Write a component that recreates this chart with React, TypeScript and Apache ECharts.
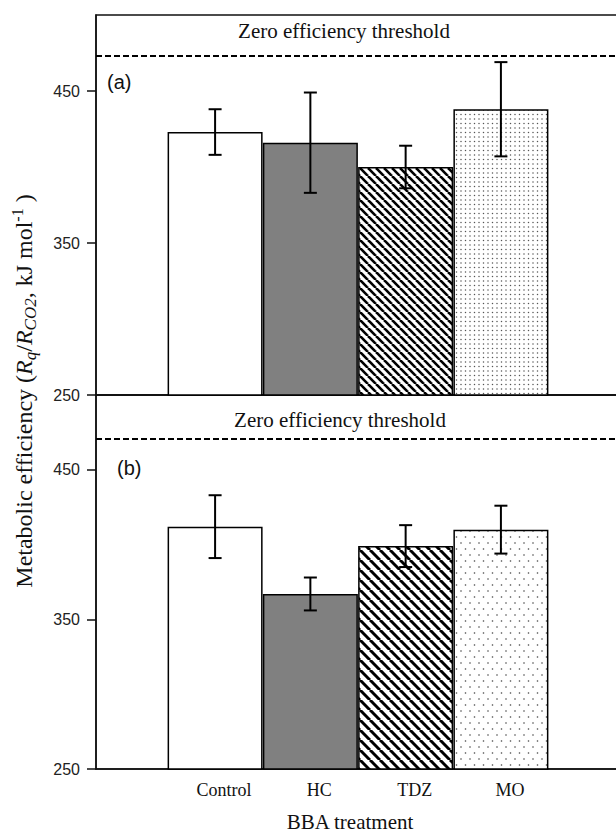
import React, { useEffect, useRef } from "react";
import * as echarts from "echarts";

// ---- data ----
const categories = ["Control", "HC", "TDZ", "MO"];
const positions = [1, 2, 3, 4];
const meansA = [423, 416, 400, 438];
const errorsA = [15, 33, 14, 31];
const meansB = [412, 367, 399, 410];
const errorsB = [21, 11, 14, 16];
const thresholdA = 473;
const thresholdB = 471;
const yTicks = [250, 350, 450];
const thresholdLabel = "Zero efficiency threshold";
const panelLabels = ["(a)", "(b)"];

function stripePattern(p: number, lw: number) {
  const c = document.createElement("canvas");
  c.width = p;
  c.height = p;
  const ctx = c.getContext("2d")!;
  ctx.fillStyle = "#fff";
  ctx.fillRect(0, 0, p, p);
  ctx.strokeStyle = "#000";
  ctx.lineWidth = lw;
  for (const o of [-p, 0, p]) {
    ctx.beginPath();
    ctx.moveTo(o, 0);
    ctx.lineTo(o + p, p);
    ctx.stroke();
  }
  return { image: c.toDataURL(), repeat: "repeat", imageWidth: p, imageHeight: p };
}

function dotPattern(w: number, h: number, dots: number[][], r: number, col: string) {
  const c = document.createElement("canvas");
  c.width = w;
  c.height = h;
  const ctx = c.getContext("2d")!;
  ctx.fillStyle = "#fff";
  ctx.fillRect(0, 0, w, h);
  ctx.fillStyle = col;
  for (const [x, y] of dots) {
    ctx.beginPath();
    ctx.arc(x, y, r, 0, Math.PI * 2);
    ctx.fill();
  }
  return { image: c.toDataURL(), repeat: "repeat", imageWidth: w, imageHeight: h };
}

export default function App() {
  const ref = useRef<HTMLDivElement>(null);
  useEffect(() => {
    if (!ref.current) return;
    const chart = echarts.init(ref.current, null, { renderer: "svg" });
    const axisCol = "#111";
    const serif = "Liberation Serif";
    const fills = [
      [
        "#ffffff",
        "#808080",
        stripePattern(8, 2.6),
        dotPattern(9, 9, [[2, 2], [6.5, 2], [2, 6.5], [6.5, 6.5]], 0.75, "#555"),
      ],
      [
        "#ffffff",
        "#808080",
        stripePattern(10, 3),
        dotPattern(9, 12, [[2, 3], [6.5, 9]], 0.8, "#444"),
      ],
    ];
    const panels = [
      { means: meansA, errs: errorsA, thr: thresholdA },
      { means: meansB, errs: errorsB, thr: thresholdB },
    ];
    const series: any[] = [];
    panels.forEach((p, i) => {
      series.push({
        type: "bar",
        xAxisIndex: i,
        yAxisIndex: i,
        barWidth: 95,
        clip: true,
        data: positions.map((x, k) => ({
          value: [x, p.means[k]],
          itemStyle: { color: fills[i][k], borderColor: "#000", borderWidth: 1.5 },
        })),
        markLine: {
          silent: true,
          symbol: "none",
          label: { show: false },
          lineStyle: { type: [6, 3], color: "#000", width: 2 },
          data: [{ yAxis: p.thr }],
        },
        z: 2,
      });
      series.push({
        type: "custom",
        xAxisIndex: i,
        yAxisIndex: i,
        z: 5,
        encode: { x: 0, y: 1 },
        data: positions.map((x, k) => [x, p.means[k], p.errs[k]]),
        renderItem: (params: any, api: any) => {
          const x = api.value(0);
          const v = api.value(1);
          const e = api.value(2);
          const top = api.coord([x, v + e]);
          const bot = api.coord([x, v - e]);
          const hw = 6.5;
          const st = { stroke: "#000", lineWidth: 2 };
          return {
            type: "group",
            children: [
              { type: "line", shape: { x1: top[0], y1: top[1], x2: bot[0], y2: bot[1] }, style: st },
              { type: "line", shape: { x1: top[0] - hw, y1: top[1], x2: top[0] + hw, y2: top[1] }, style: st },
              { type: "line", shape: { x1: bot[0] - hw, y1: bot[1], x2: bot[0] + hw, y2: bot[1] }, style: st },
            ],
          };
        },
      });
    });

    const mkX = (i: number) => ({
      type: "value",
      gridIndex: i,
      min: -0.25,
      max: 5.25,
      axisLine: { show: true, onZero: false, lineStyle: { color: axisCol, width: 1.5 } },
      axisTick: { show: false },
      splitLine: { show: false },
      axisLabel:
        i === 1
          ? {
              customValues: positions,
              formatter: (v: number) => categories[Math.round(v) - 1] || "",
              margin: 12,
              padding: [0, 0, 0, 18],
              fontFamily: serif,
              fontSize: 18,
              color: "#111",
            }
          : { show: false },
      name: i === 1 ? "BBA treatment" : "",
      nameLocation: "middle",
      nameGap: 42,
      nameTextStyle: { fontFamily: serif, fontSize: 21, color: "#111", padding: [0, 16, 0, 0] },
    });
    const mkY = (i: number) => ({
      type: "value",
      gridIndex: i,
      min: 250,
      max: 500,
      axisLine: { show: true, onZero: false, lineStyle: { color: axisCol, width: 1.5 } },
      axisTick: { show: true, length: 9, customValues: yTicks, lineStyle: { color: axisCol, width: 1.5 } },
      axisLabel: {
        customValues: yTicks,
        margin: 16,
        fontFamily: "Liberation Sans",
        fontSize: 16,
        color: "#222",
      },
      splitLine: { show: false },
    });

    chart.setOption({
      animation: false,
      grid: [
        { left: 96, top: 15, width: 524, height: 380, show: true, borderColor: axisCol, borderWidth: 1.5, outerBoundsMode: "none", containLabel: false },
        { left: 96, top: 395, width: 524, height: 374, show: true, borderColor: axisCol, borderWidth: 1.5, outerBoundsMode: "none", containLabel: false },
      ],
      xAxis: [mkX(0), mkX(1)],
      yAxis: [mkY(0), mkY(1)],
      series,
      graphic: [
        {
          type: "text",
          x: 344,
          y: 31,
          style: { text: thresholdLabel, fontFamily: serif, fontSize: 21, fill: "#111", align: "center", verticalAlign: "middle" },
        },
        {
          type: "text",
          x: 340,
          y: 420,
          style: { text: thresholdLabel, fontFamily: serif, fontSize: 21, fill: "#111", align: "center", verticalAlign: "middle" },
        },
        {
          type: "text",
          x: 107,
          y: 82,
          style: { text: panelLabels[0], fontFamily: "Liberation Sans", fontSize: 20, fill: "#111", align: "left", verticalAlign: "middle" },
        },
        {
          type: "text",
          x: 117,
          y: 468,
          style: { text: panelLabels[1], fontFamily: "Liberation Sans", fontSize: 20, fill: "#111", align: "left", verticalAlign: "middle" },
        },
        {
          type: "text",
          x: 24,
          y: 391,
          rotation: Math.PI / 2,
          style: {
            text:
              "{n|Metabolic efficiency (}{i|R}{s|q}{n|/}{i|R}{s|CO2}{n|, kJ mol}{p|-1}{n| )}",
            align: "center",
            verticalAlign: "middle",
            fontFamily: serif,
            fontSize: 24,
            fill: "#111",
            rich: {
              n: { fontFamily: serif, fontSize: 24, lineHeight: 30, fill: "#111" },
              i: { fontFamily: serif, fontSize: 24, fontStyle: "italic", lineHeight: 30, fill: "#111" },
              s: { fontFamily: serif, fontSize: 17, fontStyle: "italic", lineHeight: 17, verticalAlign: "bottom", fill: "#111" },
              p: { fontFamily: serif, fontSize: 16, lineHeight: 17, verticalAlign: "top", fill: "#111" },
            },
          },
        },
      ],
    });
    return () => chart.dispose();
  }, []);
  return (
    <div
      ref={ref}
      style={{ position: "absolute", left: 0, top: 0, width: 616, height: 832, background: "#fff" }}
    />
  );
}
